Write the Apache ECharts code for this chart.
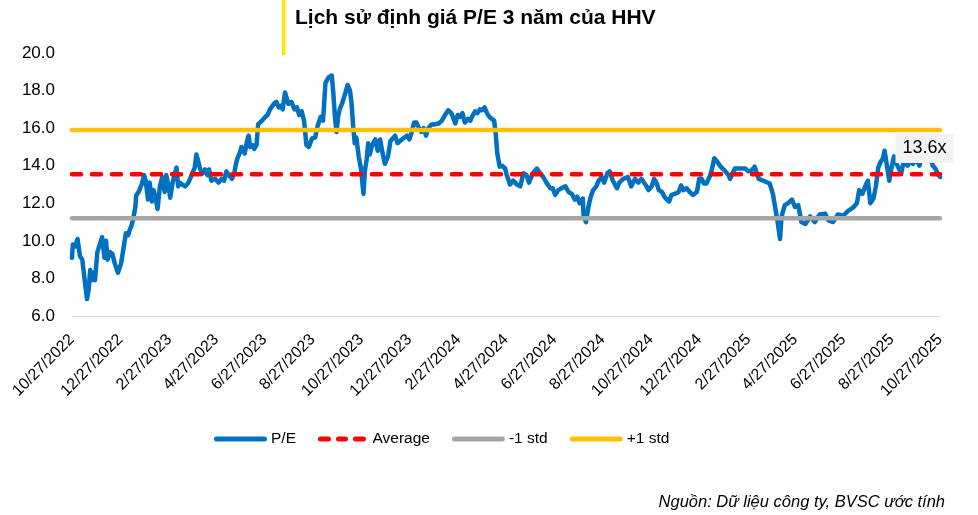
<!DOCTYPE html>
<html>
<head>
<meta charset="utf-8">
<script src="https://cdn.jsdelivr.net/npm/echarts@6/dist/echarts.min.js"></script>
<style>
html,body{margin:0;padding:0;background:#fff;}
#chart{width:978px;height:515px;}
</style>
</head>
<body>
<div id="chart"></div>
<script>
const chartTitle = 'Lịch sử định giá P/E 3 năm của HHV';
const sourceNote = 'Nguồn: Dữ liệu công ty, BVSC ước tính';
const seriesNames = ['P/E', 'Average', '-1 std', '+1 std'];
const startDate = '2022-10-27';
const endDate = '2025-10-27';
const tickLabels = ['10/27/2022','12/27/2022','2/27/2023','4/27/2023','6/27/2023','8/27/2023','10/27/2023','12/27/2023','2/27/2024','4/27/2024','6/27/2024','8/27/2024','10/27/2024','12/27/2024','2/27/2025','4/27/2025','6/27/2025','8/27/2025','10/27/2025'];
const yTicks = [6, 8, 10, 12, 14, 16, 18, 20];
const averagePE = 13.55;
const minus1Std = 11.2;
const plus1Std = 15.9;
const lastLabel = '13.6x';

const peDates = [
'2022-10-27','2022-10-28','2022-10-31','2022-11-03','2022-11-06','2022-11-09','2022-11-12','2022-11-15','2022-11-17','2022-11-19',
'2022-11-21','2022-11-23','2022-11-25','2022-11-28','2022-12-01','2022-12-04','2022-12-07','2022-12-09','2022-12-11','2022-12-14',
'2022-12-17','2022-12-20','2022-12-24','2022-12-28','2022-12-31',
'2023-01-03','2023-01-06','2023-01-08','2023-01-10','2023-01-12','2023-01-15','2023-01-16','2023-01-19','2023-01-23','2023-01-26',
'2023-01-28','2023-01-31','2023-02-02','2023-02-05','2023-02-07','2023-02-10','2023-02-12','2023-02-15','2023-02-18','2023-02-21',
'2023-02-23','2023-02-26','2023-02-28','2023-03-03','2023-03-06','2023-03-08','2023-03-10','2023-03-12','2023-03-15','2023-03-19',
'2023-03-23','2023-03-27','2023-03-31','2023-04-02','2023-04-04','2023-04-07','2023-04-10','2023-04-13','2023-04-16','2023-04-18',
'2023-04-21','2023-04-23','2023-04-26','2023-04-30','2023-05-04','2023-05-07','2023-05-10','2023-05-13','2023-05-17','2023-05-20',
'2023-05-22','2023-05-24','2023-05-27','2023-05-29','2023-05-31','2023-06-02','2023-06-05','2023-06-07','2023-06-09','2023-06-12',
'2023-06-14','2023-06-17','2023-06-19','2023-06-21','2023-06-24','2023-06-28','2023-07-01','2023-07-04','2023-07-06','2023-07-09',
'2023-07-12','2023-07-15','2023-07-18','2023-07-20','2023-07-23','2023-07-27','2023-07-31','2023-08-04','2023-08-07','2023-08-10',
'2023-08-13','2023-08-16','2023-08-19','2023-08-22','2023-08-26','2023-08-30','2023-09-02','2023-09-06','2023-09-09','2023-09-12',
'2023-09-16','2023-09-20','2023-09-22','2023-09-24','2023-09-26','2023-09-28','2023-09-30','2023-10-03','2023-10-07','2023-10-10',
'2023-10-13','2023-10-15','2023-10-17','2023-10-19','2023-10-21','2023-10-24','2023-10-27','2023-10-30','2023-11-01','2023-11-03',
'2023-11-05','2023-11-07','2023-11-10','2023-11-14','2023-11-17','2023-11-20','2023-11-23','2023-11-26','2023-11-30','2023-12-03',
'2023-12-05','2023-12-09','2023-12-12','2023-12-15','2023-12-19','2023-12-24','2023-12-27','2023-12-30',
'2024-01-02','2024-01-05','2024-01-07','2024-01-11','2024-01-14','2024-01-17','2024-01-20','2024-01-24','2024-01-28','2024-02-02',
'2024-02-06','2024-02-10','2024-02-14','2024-02-18','2024-02-20','2024-02-23','2024-02-26','2024-02-29','2024-03-03','2024-03-06',
'2024-03-10','2024-03-13','2024-03-15','2024-03-19','2024-03-22','2024-03-25','2024-03-28','2024-03-31','2024-04-03','2024-04-06',
'2024-04-09','2024-04-12','2024-04-14','2024-04-16','2024-04-19','2024-04-22','2024-04-26','2024-04-28','2024-05-02','2024-05-06',
'2024-05-11','2024-05-15','2024-05-19','2024-05-23','2024-05-26','2024-05-31','2024-06-05','2024-06-09','2024-06-13','2024-06-17',
'2024-06-22','2024-06-25','2024-06-28','2024-07-02','2024-07-06','2024-07-11','2024-07-15','2024-07-19','2024-07-23','2024-07-26',
'2024-07-29','2024-08-02','2024-08-03','2024-08-06','2024-08-09','2024-08-12','2024-08-15','2024-08-19','2024-08-22','2024-08-26',
'2024-08-29','2024-09-02','2024-09-05','2024-09-09','2024-09-14','2024-09-17','2024-09-22','2024-09-28','2024-10-02','2024-10-07',
'2024-10-11','2024-10-15','2024-10-20','2024-10-24','2024-10-28','2024-10-31','2024-11-03','2024-11-06','2024-11-10','2024-11-13',
'2024-11-16','2024-11-19','2024-11-22','2024-11-26','2024-12-01','2024-12-04','2024-12-07','2024-12-11','2024-12-15','2024-12-19',
'2024-12-24','2024-12-27','2024-12-30',
'2025-01-02','2025-01-05','2025-01-09','2025-01-12','2025-01-15','2025-01-19','2025-01-23','2025-01-29','2025-02-02','2025-02-04',
'2025-02-10','2025-02-17','2025-02-23','2025-02-27','2025-03-03','2025-03-07','2025-03-12','2025-03-18','2025-03-26','2025-03-30',
'2025-04-03','2025-04-05','2025-04-08','2025-04-10','2025-04-14','2025-04-18','2025-04-23','2025-04-27','2025-05-01','2025-05-05',
'2025-05-10','2025-05-16','2025-05-22','2025-05-28','2025-06-04','2025-06-08','2025-06-14','2025-06-20','2025-06-27','2025-07-03',
'2025-07-10','2025-07-14','2025-07-17','2025-07-21','2025-07-26','2025-07-28','2025-07-31','2025-08-04','2025-08-07','2025-08-10',
'2025-08-13','2025-08-16','2025-08-18','2025-08-21','2025-08-24','2025-08-27','2025-08-30','2025-09-02','2025-09-05','2025-09-08',
'2025-09-11','2025-09-16','2025-09-19','2025-09-23','2025-09-27','2025-10-01','2025-10-05','2025-10-08','2025-10-11','2025-10-14',
'2025-10-18','2025-10-21','2025-10-24','2025-10-27'
];

const peValues = [
9.1,9.8,9.7,10.1,9.2,9.0,7.9,6.9,7.4,8.45,
7.9,8.3,7.9,9.4,9.8,10.2,9.1,10.0,9.0,9.4,
9.3,8.8,8.3,8.8,9.6,
10.4,10.3,10.6,10.8,11.1,11.8,12.4,12.6,13.0,13.5,
13.2,12.2,13.1,12.1,12.7,12.2,11.7,12.9,13.4,12.6,
13.5,12.9,12.3,13.1,13.6,13.9,12.9,13.1,13.0,12.9,
13.1,13.5,13.9,14.6,14.3,13.8,13.6,13.8,13.5,13.8,
13.2,13.1,13.3,13.1,13.3,13.2,13.7,13.5,13.3,13.6,
14.1,14.4,14.7,15.0,14.8,14.65,15.3,15.6,15.0,15.1,
14.9,15.1,16.2,16.3,16.4,16.6,16.7,17.0,16.9,17.3,
17.4,17.1,17.2,17.0,17.9,17.3,17.4,17.0,17.1,16.7,
16.9,16.4,15.1,15.0,15.45,15.5,16.1,16.6,16.4,18.4,
18.7,18.8,17.85,16.6,15.8,16.6,17.0,17.3,17.85,18.3,
18.0,17.3,16.1,15.2,15.5,14.5,13.8,12.5,13.8,14.3,
15.2,14.6,15.1,15.4,14.8,15.4,14.7,14.1,14.5,15.3,
15.4,15.6,15.2,15.3,15.45,15.6,15.4,15.8,
16.3,16.3,16.1,15.8,16.0,15.6,16.0,16.2,16.2,16.25,
16.4,16.7,16.95,16.8,16.6,16.25,16.7,16.6,16.8,16.3,
16.5,16.4,16.6,16.9,16.8,17.0,16.95,17.1,16.8,16.6,
16.5,16.4,15.7,14.65,13.95,14.0,13.85,13.5,13.0,13.2,
13.0,12.9,13.6,13.5,13.1,13.6,13.85,13.6,13.4,13.1,
12.8,12.8,12.45,12.7,12.8,12.9,12.6,12.5,12.2,12.35,
12.0,12.25,11.3,11.0,11.8,12.35,12.7,12.9,13.2,13.4,
13.1,13.6,13.7,13.2,12.8,13.1,13.3,13.4,12.9,13.3,
13.1,13.3,13.0,12.7,12.9,13.3,13.1,12.7,12.6,12.35,
12.2,12.1,12.45,12.5,12.6,12.95,12.7,12.8,12.6,12.45,
12.6,13.3,13.3,
13.05,13.05,13.4,13.8,14.4,14.2,13.95,13.7,13.5,13.3,
13.85,13.85,13.85,13.7,13.75,13.95,13.3,13.2,13.05,12.5,
11.5,11.0,10.1,11.3,11.9,12.0,12.2,11.8,11.9,11.0,
10.9,11.3,11.0,11.4,11.45,11.1,11.0,11.4,11.35,11.6,
11.8,12.0,12.7,12.5,13.05,13.2,12.0,12.25,12.9,13.9,
14.2,14.4,14.8,14.0,13.2,13.95,14.5,14.1,13.85,13.6,
14.2,14.0,14.2,14.1,14.4,14.0,14.65,14.4,14.55,14.5,
14.0,13.85,13.6,13.4
];

function parseLabelDate(s) {
  const p = s.split('/').map(Number);
  return new Date(p[2], p[0] - 1, p[1]).getTime();
}
function parseIsoDate(s) {
  const p = s.split('-').map(Number);
  return new Date(p[0], p[1] - 1, p[2]).getTime();
}
const tickValues = tickLabels.map(parseLabelDate);
const peData = peDates.map((d, i) => [parseIsoDate(d), peValues[i]]);
const t0 = parseIsoDate(startDate), t1 = parseIsoDate(endDate);
const flat = v => [[t0, v], [t1, v]];

const FONT = 'Arial, "Liberation Sans", sans-serif';
const SOLID_ICON = 'path://M2.5,0h48a2.5,2.5 0 0 1 0,5h-48a2.5,2.5 0 0 1 0,-5z';
const DASH_ICON = 'path://M2.5,0h8a2.5,2.5 0 0 1 0,5h-8a2.5,2.5 0 0 1 0,-5z M20.5,0h7a2.5,2.5 0 0 1 0,5h-7a2.5,2.5 0 0 1 0,-5z M37.5,0h8a2.5,2.5 0 0 1 0,5h-8a2.5,2.5 0 0 1 0,-5z';

const chart = echarts.init(document.getElementById('chart'), null, {renderer: 'canvas'});

const option = {
  backgroundColor: '#ffffff',
  animation: false,
  title: {
    text: chartTitle,
    left: 290, top: 3,
    textStyle: {fontFamily: FONT, fontSize: 21, fontWeight: 'bold', color: '#000'}
  },
  graphic: [
    {type: 'rect', left: 282, top: 0, shape: {width: 3.5, height: 55}, style: {fill: '#FFE600'}, z: 10},
    {type: 'text', right: 33, bottom: 4, style: {text: sourceNote, font: 'italic 16.5px ' + FONT, fill: '#000'}}
  ],
  legend: {
    left: 209, top: 426,
    itemWidth: 53, itemHeight: 5, itemGap: 22,
    textStyle: {fontFamily: FONT, fontSize: 15.5, color: '#000', padding: [0, 0, 0, -1]},
    data: [
      {name: seriesNames[0], icon: SOLID_ICON},
      {name: seriesNames[1], icon: DASH_ICON},
      {name: seriesNames[2], icon: SOLID_ICON},
      {name: seriesNames[3], icon: SOLID_ICON}
    ]
  },
  grid: {left: 72, right: 38, top: 53, bottom: 199, containLabel: false},
  xAxis: {
    type: 'value',
    min: t0, max: t1,
    splitLine: {show: false},
    axisLine: {show: true, lineStyle: {color: '#D9D9D9', width: 1}},
    axisTick: {show: false},
    axisLabel: {
      customValues: tickValues,
      rotate: 45,
      margin: 21,
      fontFamily: FONT, fontSize: 16, color: '#000',
      showMinLabel: true, showMaxLabel: true,
      formatter: function (v) {
        const d = new Date(v);
        return (d.getMonth() + 1) + '/' + d.getDate() + '/' + d.getFullYear();
      }
    }
  },
  yAxis: {
    type: 'value',
    min: yTicks[0], max: yTicks[yTicks.length - 1], interval: 2,
    splitLine: {show: false},
    axisLine: {show: false},
    axisTick: {show: false},
    axisLabel: {fontFamily: FONT, fontSize: 17, color: '#000', margin: 17,
      formatter: v => v.toFixed(1)}
  },
  series: [
    {
      name: seriesNames[0], type: 'line', data: peData, symbol: 'none', showSymbol: false,
      lineStyle: {color: '#0070C0', width: 4.5, join: 'round', cap: 'round'},
      itemStyle: {color: '#0070C0'},
      z: 2,
      markPoint: {
        symbol: 'rect', symbolSize: 1, itemStyle: {color: 'rgba(0,0,0,0)'},
        data: [{coord: peData[peData.length - 1], value: lastLabel}],
        label: {show: true, position: 'inside', offset: [-15.5, -28.5], formatter: lastLabel,
          backgroundColor: '#F2F2F2', padding: [6, 7, 5, 7], color: '#000',
          fontFamily: FONT, fontSize: 18}
      }
    },
    {
      name: seriesNames[1], type: 'line', data: flat(averagePE), symbol: 'none',
      lineStyle: {color: '#FF0000', width: 4.5, type: [9, 11], cap: 'round'},
      itemStyle: {color: '#FF0000'}, z: 3
    },
    {
      name: seriesNames[2], type: 'line', data: flat(minus1Std), symbol: 'none',
      lineStyle: {color: '#A6A6A6', width: 4.5, cap: 'round'},
      itemStyle: {color: '#A6A6A6'}, z: 3
    },
    {
      name: seriesNames[3], type: 'line', data: flat(plus1Std), symbol: 'none',
      lineStyle: {color: '#FFC000', width: 4.5, cap: 'round'},
      itemStyle: {color: '#FFC000'}, z: 3
    }
  ]
};
chart.setOption(option);
</script>
</body>
</html>
